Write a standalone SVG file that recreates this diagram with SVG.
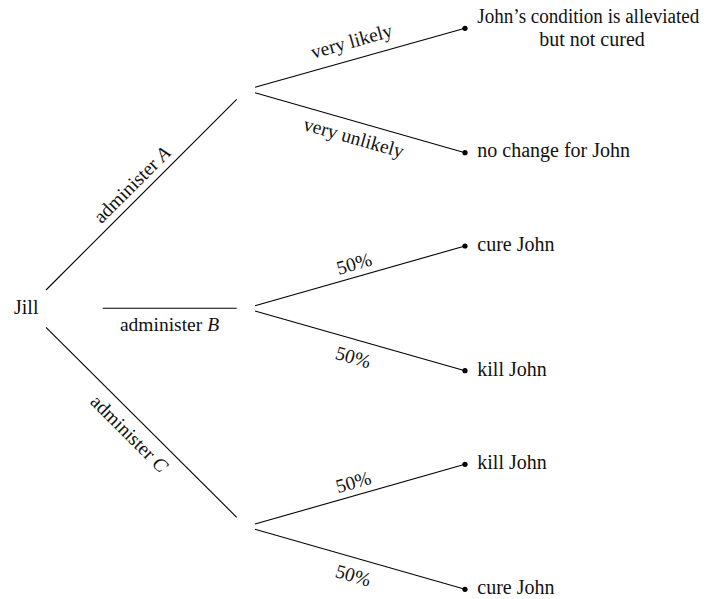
<svg xmlns="http://www.w3.org/2000/svg" width="711" height="599" viewBox="0 0 711 599">
  <style>
    .edge { stroke: #000; stroke-width: 1.1; fill: none; }
    .node { font-family: "Liberation Serif", "DejaVu Serif", serif; font-size: 20px; fill: #111; }
    .lbl { font-family: "Liberation Serif", "DejaVu Serif", serif; font-size: 19.5px; fill: #111; text-anchor: middle; }
    .dot { fill: #000; }
  </style>
  <rect width="711" height="599" fill="#fff"/>

  <!-- connectors -->
  <g id="connectors">
    <line class="edge" x1="46" y1="290" x2="236.7" y2="99.3"/>
    <line class="edge" x1="102.7" y1="308.3" x2="236.7" y2="308.3"/>
    <line class="edge" x1="46" y1="327.3" x2="236.7" y2="517.3"/>

    <line class="edge" x1="255" y1="87.3" x2="465" y2="28.3"/>
    <line class="edge" x1="255" y1="92.7" x2="465" y2="152.7"/>

    <line class="edge" x1="255" y1="305.7" x2="465" y2="246"/>
    <line class="edge" x1="255" y1="311" x2="465" y2="370.7"/>

    <line class="edge" x1="255" y1="524" x2="465" y2="464.3"/>
    <line class="edge" x1="255" y1="529.3" x2="465" y2="589.3"/>

    <!-- edge labels -->
    <text class="lbl" transform="translate(132.3,185) rotate(-45)" y="6">administer <tspan font-style="italic">A</tspan></text>
    <text class="lbl" x="169.5" y="331">administer <tspan font-style="italic">B</tspan></text>
    <text class="lbl" transform="translate(129,434) rotate(45)" y="6">administer <tspan font-style="italic">C</tspan></text>

    <text class="lbl" transform="translate(351.7,41.7) rotate(-15.7)" y="6">very likely</text>
    <text class="lbl" transform="translate(353.3,139) rotate(15.9)" y="5">very unlikely</text>

    <text class="lbl" transform="translate(354,263.3) rotate(-15.9)" y="7">50%</text>
    <text class="lbl" transform="translate(353.3,356.7) rotate(15.9)" y="7">50%</text>
    <text class="lbl" transform="translate(353.3,481.7) rotate(-15.9)" y="7">50%</text>
    <text class="lbl" transform="translate(353.3,575) rotate(15.9)" y="7">50%</text>
  </g>

  <!-- root -->
  <g id="jill">
    <text class="node" x="14" y="314">Jill</text>
  </g>

  <!-- outcomes -->
  <g id="alleviated">
    <circle class="dot" cx="465" cy="28.3" r="2.6"/>
    <text class="node" x="477.3" y="23.3" textLength="222" lengthAdjust="spacingAndGlyphs">John’s condition is alleviated</text>
    <text class="node" x="592" y="45.5" text-anchor="middle">but not cured</text>
  </g>
  <g id="no-change">
    <circle class="dot" cx="465" cy="152.7" r="2.6"/>
    <text class="node" x="477.3" y="157">no change for John</text>
  </g>
  <g id="b-cure">
    <circle class="dot" cx="465" cy="246" r="2.6"/>
    <text class="node" x="477.3" y="250.7">cure John</text>
  </g>
  <g id="b-kill">
    <circle class="dot" cx="465" cy="370.7" r="2.6"/>
    <text class="node" x="477.3" y="375.7">kill John</text>
  </g>
  <g id="c-kill">
    <circle class="dot" cx="465" cy="464.3" r="2.6"/>
    <text class="node" x="477.3" y="469.3">kill John</text>
  </g>
  <g id="c-cure">
    <circle class="dot" cx="465" cy="589.3" r="2.6"/>
    <text class="node" x="477.3" y="594">cure John</text>
  </g>
</svg>
